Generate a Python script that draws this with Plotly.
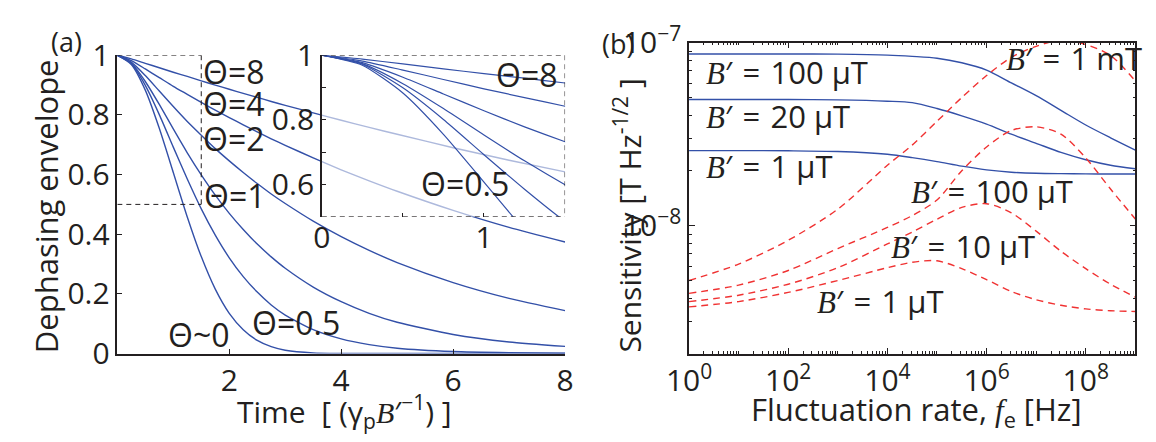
import plotly.graph_objects as go

# ---------------- panel (a): dephasing envelope ----------------
time_a = [0, 0.25, 0.5, 0.75, 1.0, 1.25, 1.5, 1.75, 2.0, 2.25, 2.5, 2.75, 3.0, 3.5, 4.0, 4.5, 5.0, 6.0, 7.0, 8.0]
env_theta_8 = [1, 0.988, 0.973, 0.958, 0.943, 0.929, 0.914, 0.900, 0.886, 0.872, 0.859, 0.845, 0.832,
               0.807, 0.782, 0.758, 0.735, 0.690, 0.648, 0.609]
env_theta_4 = [1, 0.982, 0.954, 0.925, 0.896, 0.869, 0.842, 0.816, 0.791, 0.767, 0.743, 0.720, 0.698,
               0.656, 0.616, 0.579, 0.544, 0.480, 0.423, 0.374]
env_theta_2 = [1, 0.977, 0.932, 0.880, 0.828, 0.778, 0.732, 0.687, 0.646, 0.607, 0.570, 0.535, 0.503,
               0.444, 0.392, 0.346, 0.305, 0.238, 0.185, 0.144]
env_theta_1 = [1, 0.974, 0.912, 0.835, 0.753, 0.673, 0.599, 0.531, 0.470, 0.416, 0.367, 0.324, 0.286,
               0.223, 0.174, 0.135, 0.105, 0.064, 0.039, 0.024]
env_theta_05 = [1, 0.972, 0.899, 0.801, 0.692, 0.585, 0.485, 0.397, 0.321, 0.258, 0.206, 0.163, 0.129,
                0.080, 0.049, 0.030, 0.018, 0.007, 0.003, 0.001]
env_theta_0 = [1, 0.969, 0.883, 0.755, 0.607, 0.458, 0.325, 0.216, 0.135, 0.080, 0.044, 0.023, 0.011,
               0.002, 0.0003, 0, 0, 0, 0, 0]
curves_a = [env_theta_8, env_theta_4, env_theta_2, env_theta_1, env_theta_05, env_theta_0]

main_x_ticks = [2, 4, 6, 8]
main_y_ticks = [0, 0.2, 0.4, 0.6, 0.8, 1]
main_y_text = ["0", "0.2", "0.4", "0.6", "0.8", "1"]
inset_x_range = [0, 1.5]
inset_y_range = [0.5, 1]
inset_x_ticks = [0, 1]
inset_y_ticks = [0.6, 0.8, 1]
inset_y_text = ["0.6", "0.8", "1"]

# ---------------- panel (b): sensitivity (log10 of T Hz^-1/2) vs log10 of rate ----------------
freq_exp = [0, 1, 2, 3, 4, 4.5, 5, 5.5, 6, 6.5, 7, 7.5, 8, 8.5, 9]
blue_100uT = [-7.062, -7.062, -7.062, -7.063, -7.068, -7.075, -7.085, -7.11, -7.15, -7.22, -7.29, -7.37, -7.45, -7.52, -7.587]
blue_20uT = [-7.311, -7.311, -7.311, -7.313, -7.32, -7.328, -7.36, -7.40, -7.445, -7.50, -7.55, -7.60, -7.64, -7.67, -7.689]
blue_1uT = [-7.59, -7.59, -7.591, -7.595, -7.61, -7.628, -7.65, -7.675, -7.695, -7.708, -7.714, -7.716, -7.717, -7.718, -7.718]
red_1uT = [-8.444, -8.415, -8.365, -8.30, -8.23, -8.20, -8.192, -8.235, -8.295, -8.36, -8.405, -8.435, -8.455, -8.465, -8.469]
red_10uT = [-8.415, -8.38, -8.32, -8.23, -8.10, -8.035, -7.965, -7.90, -7.88, -7.93, -8.03, -8.14, -8.235, -8.32, -8.39]
red_100uT = [-8.37, -8.325, -8.245, -8.125, -8.01, -7.945, -7.86, -7.70, -7.57, -7.48, -7.46, -7.50, -7.63, -7.80, -7.964]
red_1mT = [-8.30, -8.21, -8.08, -7.91, -7.67, -7.56, -7.43, -7.30, -7.18, -7.08, -7.02, -6.985, -7.01, -7.07, -7.21]
solid_curves = [blue_100uT, blue_20uT, blue_1uT]
dashed_curves = [red_1uT, red_10uT, red_100uT, red_1mT]

freq_ticks_exp = [0, 2, 4, 6, 8]
sens_ticks_exp = [-8, -7]
sens_range_exp = [-8.699, -7]

# ---------------- styling / geometry ----------------
W, H = 1156, 442
BLUE = "#3350a8"
RED = "#f03232"
INK = "#231f20"
FONT = "Open Sans"
ITAL = "<span style='font-family:Liberation Serif;font-style:italic'>{}</span>"
B_PRIME = ITAL.format("B") + "′"
SP = "\u2004"


def px(x):
    return x / W


def py(y):
    return 1 - y / H


def sup(base, exp):
    return base + "<sup>" + exp + "</sup>"


def b_label(value):
    return B_PRIME + SP + "=" + SP + value


fig = go.Figure()

for vals in curves_a:
    fig.add_trace(go.Scatter(x=time_a, y=vals, mode="lines", xaxis="x", yaxis="y",
                             line=dict(color=BLUE, width=1.4, shape="spline", smoothing=0.6),
                             showlegend=False, hoverinfo="skip"))
for vals in curves_a:
    fig.add_trace(go.Scatter(x=time_a, y=vals, mode="lines", xaxis="x3", yaxis="y3",
                             line=dict(color=BLUE, width=1.2, shape="spline", smoothing=0.6),
                             showlegend=False, hoverinfo="skip"))

freq = [10 ** e for e in freq_exp]
for vals in solid_curves:
    fig.add_trace(go.Scatter(x=freq, y=[10 ** v for v in vals], mode="lines", xaxis="x2", yaxis="y2",
                             line=dict(color=BLUE, width=1.4, shape="spline", smoothing=0.8),
                             showlegend=False, hoverinfo="skip"))
for vals in dashed_curves:
    fig.add_trace(go.Scatter(x=freq, y=[10 ** v for v in vals], mode="lines", xaxis="x2", yaxis="y2",
                             line=dict(color=RED, width=1.4, dash="7px,5px", shape="spline", smoothing=0.8),
                             showlegend=False, hoverinfo="skip"))

axis_common = dict(showgrid=False, zeroline=False, showline=True, linecolor=INK, linewidth=1.5,
                   ticks="inside", tickcolor=INK, tickwidth=1.2, ticklen=5,
                   tickfont=dict(family=FONT, size=30, color=INK))

layout = dict(
    width=W, height=H, margin=dict(l=0, r=0, t=0, b=0),
    paper_bgcolor="white", plot_bgcolor="rgba(255,255,255,0.6)",
    font=dict(family=FONT, color=INK),
    xaxis=dict(axis_common, domain=[px(97), px(557.5)], range=[0, 8], anchor="y",
               tickmode="array", tickvals=main_x_ticks),
    yaxis=dict(axis_common, domain=[py(366), py(34.7)], range=[0, 1], anchor="x",
               tickmode="array", tickvals=main_y_ticks, ticktext=main_y_text),
    xaxis3=dict(axis_common, domain=[px(307.3), px(557.5)], range=inset_x_range, anchor="y3",
                showline=False, tickmode="array", tickvals=inset_x_ticks, ticklen=4,
                minor=dict(ticks="inside", ticklen=4, tick0=0, dtick=0.5, tickcolor=INK, showgrid=False)),
    yaxis3=dict(axis_common, domain=[py(214), py(34.7)], range=inset_y_range, anchor="x3",
                tickmode="array", tickvals=inset_y_ticks, ticktext=inset_y_text, ticklen=4,
                minor=dict(ticks="inside", ticklen=4, tick0=0.5, dtick=0.1, tickcolor=INK, showgrid=False)),
    xaxis2=dict(axis_common, type="log", domain=[px(685), px(1144)], range=[0, 9], anchor="y2",
                mirror="allticks", tickmode="array", tickvals=[10 ** e for e in freq_ticks_exp],
                ticktext=[sup("10", str(e)) for e in freq_ticks_exp], ticklen=6,
                minor=dict(ticks="inside", ticklen=3, dtick="D1", tickcolor=INK, showgrid=False)),
    yaxis2=dict(axis_common, type="log", domain=[py(366), py(20.7)], range=sens_range_exp, anchor="x2",
                mirror="allticks", tickmode="array", tickvals=[10 ** e for e in sens_ticks_exp],
                ticktext=[sup("10", "−" + str(-e)) for e in sens_ticks_exp], ticklen=6,
                minor=dict(ticks="inside", ticklen=3, dtick="D1", tickcolor=INK, showgrid=False)),
)

# dashed zoom box in main panel and dashed borders of the inset
shapes = []
x0, x1 = inset_x_range
y0, y1 = inset_y_range
for xr, yr in (("x", "y"), ("x3", "y3")):
    for seg in ((x0, y1, x1, y1), (x1, y1, x1, y0), (x0, y0, x1, y0)):
        shapes.append(dict(type="line", xref=xr, yref=yr, x0=seg[0], y0=seg[1], x1=seg[2], y1=seg[3],
                           line=dict(color=INK, width=1, dash="5px,4px")))
layout["shapes"] = shapes


def ann(text, x, y, size=30, xanchor="center", angle=0, yanchor="middle"):
    return dict(text=text, x=px(x), y=py(y), xref="paper", yref="paper", showarrow=False,
                xanchor=xanchor, yanchor=yanchor, textangle=angle,
                font=dict(family=FONT, size=size, color=INK))


annotations = [
    ann("(a)", 45, 19, size=27),
    ann("(b)", 612, 22, size=27),
    ann("Θ=8", 183, 53, size=32, xanchor="left"),
    ann("Θ=4", 183, 88, size=32, xanchor="left"),
    ann("Θ=2", 183, 127, size=32, xanchor="left"),
    ann("Θ=1", 184, 190, size=32, xanchor="left"),
    ann("Θ=0.5", 281, 332, size=32),
    ann("Θ~0", 181, 345, size=32),
    ann("Θ=8", 518, 56, size=32),
    ann("Θ=0.5", 455, 177, size=32),
    ann("Dephasing envelope", 24, 202, size=31, angle=-90),
    ann("Time  [ (γ<sub>p</sub>" + B_PRIME + "<sup>−1</sup>) ]", 331, 430, size=30),
    ann("Fluctuation rate, " + ITAL.format("f") + "<sub>e</sub> [Hz]", 919, 430, size=31),
    ann("Sensitivity [T Hz<sup>-1/2</sup> ]", 622, 213, size=30, angle=-90),
    ann(b_label("100 μT"), 700, 53, size=31, xanchor="left"),
    ann(b_label("20 μT"), 700, 102, size=31, xanchor="left"),
    ann(b_label("1 μT"), 700, 158, size=31, xanchor="left"),
    ann(b_label("1 mT"), 1009, 38, size=31, xanchor="left"),
    ann(b_label("100 μT"), 911, 186, size=31, xanchor="left"),
    ann(b_label("10 μT"), 891, 246, size=31, xanchor="left"),
    ann(b_label("1 μT"), 815, 308, size=31, xanchor="left"),
]
layout["annotations"] = annotations

fig.update_layout(layout)
fig.write_html("out.html")
